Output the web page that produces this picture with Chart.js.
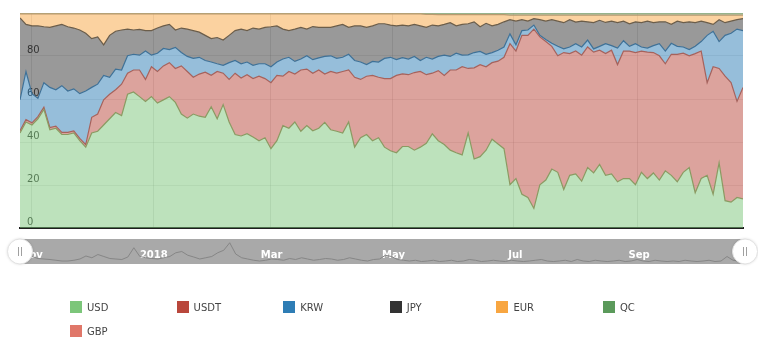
<!DOCTYPE html>
<html><head><meta charset="utf-8">
<script src="https://cdn.jsdelivr.net/npm/chart.js@4.4.1/dist/chart.umd.min.js"></script>
<style>
html,body{margin:0;padding:0;background:#fff;}
#wrap{position:relative;width:758px;height:353px;overflow:hidden;font-family:"DejaVu Sans",sans-serif;}
#main{position:absolute;left:0;top:0;}
#nav{position:absolute;left:0;top:236px;}
#legend{position:absolute;left:0;top:0;width:758px;height:353px;}
.li{position:absolute;display:flex;align-items:center;height:12px;font-size:10px;color:#444;white-space:nowrap;}
.sw{width:12px;height:12px;margin-right:5px;flex:none;}
</style></head><body><div id="wrap">
<canvas id="main" width="758" height="241" style="width:758px;height:241px"></canvas>
<canvas id="nav" width="758" height="32" style="width:758px;height:32px"></canvas>
<div id="legend"></div></div>
<script>
// sample every 3 days starting 2017-10-26
const startDate = '2017-10-26';
const stepDays = 3;
const tickDays = [6, 67, 126, 187, 248, 310];
const tickLabels = ['Nov', '2018', 'Mar', 'May', 'Jul', 'Sep'];
const seriesNames = ['USD', 'USDT', 'KRW', 'JPY', 'EUR', 'QC', 'GBP'];

const usd = [44.2,49.3,47.9,50.8,55.2,45.7,46.4,43.5,43.5,44.2,40.6,37.6,44.2,45.0,47.9,50.8,53.7,52.3,62.2,63.3,
61.1,58.9,61.1,58.1,59.6,61.1,58.4,53.0,51.1,53.0,52.0,51.5,56.4,50.8,57.4,49.3,43.5,42.8,43.9,42.3,
40.6,42.0,36.9,40.6,47.6,46.4,49.3,45.0,47.6,45.2,46.4,49.1,45.7,45.0,44.2,49.3,37.6,42.0,43.5,40.6,
42.0,37.6,35.9,35.0,37.9,37.9,36.2,37.6,39.4,43.8,40.6,38.8,36.2,35.0,34.0,44.2,32.1,33.2,36.2,41.3,
39.1,36.9,20.1,23.0,15.7,14.2,9.1,20.1,22.3,27.4,25.9,17.9,24.5,25.2,21.8,28.1,25.6,29.6,24.5,25.2,
21.5,23.0,23.0,20.1,25.9,23.0,25.6,22.3,26.6,24.5,21.5,25.9,28.1,16.4,23.0,24.5,15.7,30.3,12.7,12.0,
14.2,13.5];
const usdt = [1.0,1.1,1.0,1.0,1.0,1.0,1.0,1.0,1.0,1.0,1.1,1.2,7.3,8.0,11.7,11.4,10.6,14.6,9.8,10.2,
12.4,10.2,13.9,14.7,15.8,15.8,15.8,22.4,21.7,17.1,19.6,21.0,14.6,22.0,14.6,19.8,28.5,27.0,27.4,27.2,
30.0,27.5,30.7,30.4,23.0,26.4,22.3,28.5,26.3,26.8,27.1,22.5,27.1,27.0,28.6,24.2,32.5,27.1,27.1,30.4,
28.1,31.9,33.6,36.0,33.8,33.4,36.1,35.2,31.9,28.2,32.6,32.2,37.3,38.5,41.0,30.0,42.4,42.8,38.8,35.6,
38.5,42.5,65.6,59.3,73.9,75.4,83.4,68.8,64.4,57.1,54.2,63.7,56.6,57.1,58.6,56.1,56.2,53.1,56.6,57.5,
54.5,59.3,59.3,61.5,56.4,58.8,56.0,57.8,49.8,56.3,59.3,55.4,52.0,64.7,59.3,43.1,59.3,43.9,57.9,55.6,
44.7,51.9];
const krw = [14.4,22.4,13.6,8.5,11.4,18.7,16.9,21.7,19.2,19.5,20.8,24.9,13.9,13.9,11.4,7.9,9.6,6.6,8.1,7.3,
6.9,13.2,5.4,8.5,8.1,6.1,9.8,6.2,7.0,8.8,7.8,5.4,6.2,3.6,3.7,7.8,5.9,6.6,5.9,6.2,
5.8,6.9,7.4,6.2,8.0,6.6,5.9,5.1,6.2,6.3,5.6,8.2,7.3,6.9,6.6,7.3,7.8,8.1,5.4,6.5,
7.1,9.4,9.9,7.3,7.5,7.3,7.5,5.1,8.1,6.6,6.6,9.4,6.3,7.8,5.4,6.3,7.1,6.1,5.8,4.7,
5.1,4.8,4.6,2.9,2.2,2.5,1.9,0.7,1.0,1.4,4.4,1.7,3.1,3.4,3.8,3.2,1.5,1.8,4.6,2.1,
7.7,4.8,2.2,4.1,1.9,1.9,3.2,5.6,5.9,5.1,3.7,2.9,2.9,3.4,4.4,22.0,16.5,12.5,19.0,23.0,
33.6,26.4];
const jpy = [38.1,21.9,31.5,33.7,26.0,27.9,29.7,28.5,29.9,28.3,29.6,26.9,22.7,22.0,14.2,19.5,17.6,18.6,12.4,11.3,
12.0,9.5,11.4,11.7,10.5,11.7,8.1,11.4,12.7,12.9,11.7,11.7,10.9,12.2,11.7,12.7,13.9,16.1,14.6,17.3,
16.1,16.9,18.6,16.8,13.9,12.4,15.0,14.7,12.4,15.4,14.2,13.5,13.2,15.1,15.3,12.5,16.1,16.8,17.3,16.5,
17.8,16.1,15.0,15.7,15.2,15.4,14.9,16.1,13.9,15.8,14.2,14.3,15.7,12.7,14.3,14.5,14.3,11.5,14.4,12.4,
12.0,11.7,6.6,11.0,5.1,4.1,3.0,7.3,8.5,11.0,11.7,12.2,12.7,10.1,12.0,8.5,12.2,12.1,9.9,11.4,
11.8,9.1,10.5,10.2,11.3,12.5,10.7,10.2,13.6,8.8,11.7,11.3,12.9,11.0,9.5,5.9,3.2,10.2,5.9,5.6,
4.4,5.6];
const eur = [1.9,4.9,5.6,5.6,6.0,6.3,5.6,4.9,6.0,6.6,7.5,9.0,11.5,10.7,14.4,10.0,8.1,7.5,7.1,7.5,
7.2,7.8,7.8,6.6,5.6,4.9,7.5,6.6,7.1,7.8,8.5,10.0,11.5,11.0,12.2,10.0,7.8,7.1,7.8,6.6,
7.1,6.3,6.0,5.6,7.1,7.8,7.1,6.3,7.1,5.9,6.3,6.3,6.3,5.6,4.9,6.3,5.6,5.6,6.3,5.6,
4.6,4.6,5.2,5.6,5.2,5.6,4.9,5.6,6.1,5.0,5.2,4.5,3.7,5.2,4.5,4.2,3.3,5.6,4.0,5.2,
4.5,3.3,2.1,2.8,2.1,2.8,1.6,2.1,2.8,2.1,2.8,3.5,2.1,3.2,2.8,3.1,3.5,2.4,3.4,2.8,
3.5,2.8,4.0,3.1,3.5,2.8,3.5,3.1,3.1,4.3,2.8,3.5,3.1,3.5,2.8,3.5,4.3,2.1,3.5,2.8,
2.1,1.6];
const qc = [0.4,0.4,0.4,0.4,0.4,0.4,0.4,0.4,0.4,0.4,0.4,0.4,0.4,0.4,0.4,0.4,0.4,0.4,0.4,0.4,
0.4,0.4,0.4,0.4,0.4,0.4,0.4,0.4,0.4,0.4,0.4,0.4,0.4,0.4,0.4,0.4,0.4,0.4,0.4,0.4,
0.4,0.4,0.4,0.4,0.4,0.4,0.4,0.4,0.4,0.4,0.4,0.4,0.4,0.4,0.4,0.4,0.4,0.4,0.4,0.4,
0.4,0.4,0.4,0.4,0.4,0.4,0.4,0.4,0.6,0.6,0.8,0.8,0.8,0.8,0.8,0.8,0.8,0.8,0.8,0.8,
0.8,0.8,1.0,1.0,1.0,1.0,1.0,1.0,1.0,1.0,1.0,1.0,1.0,1.0,1.0,1.0,1.0,1.0,1.0,1.0,
1.0,1.0,1.0,1.0,1.0,1.0,1.0,1.0,1.0,1.0,1.0,1.0,1.0,1.0,1.0,1.0,1.0,1.0,1.0,1.0,
1.0,1.0];
const gbp = [];
// navigator sparkline (relative height in the navigator band)
const navigatorValues = [0.20,0.25,0.30,0.22,0.20,0.18,0.15,0.12,0.12,0.15,
0.20,0.32,0.25,0.38,0.30,0.22,0.20,0.18,0.28,0.65,
0.30,0.25,0.22,0.20,0.25,0.30,0.45,0.50,0.35,0.28,
0.20,0.25,0.30,0.45,0.55,0.85,0.40,0.25,0.20,0.15,
0.12,0.15,0.20,0.18,0.15,0.22,0.18,0.25,0.20,0.15,
0.18,0.22,0.20,0.15,0.18,0.25,0.20,0.15,0.12,0.18,
0.20,0.35,0.30,0.18,0.15,0.12,0.15,0.10,0.12,0.15,
0.10,0.12,0.15,0.10,0.12,0.18,0.15,0.10,0.12,0.15,
0.12,0.10,0.15,0.12,0.10,0.12,0.15,0.18,0.12,0.10,
0.12,0.15,0.10,0.18,0.12,0.10,0.15,0.12,0.10,0.12,
0.15,0.10,0.12,0.18,0.12,0.10,0.15,0.12,0.10,0.12,
0.10,0.15,0.12,0.10,0.12,0.15,0.10,0.12,0.30,0.15,
0.12,0.15];

const legendColors = ['#7cc67a', '#b9473c', '#2e7db5', '#333333', '#f8a641', '#5b9a5b', '#e07769'];
const fillColors = ['rgba(124,198,122,0.5)', 'rgba(185,71,60,0.5)', 'rgba(46,125,181,0.5)', 'rgba(51,51,51,0.5)', 'rgba(248,166,65,0.5)', 'rgba(91,154,91,0.5)', 'rgba(224,119,105,0.5)'];
const lineColors = ['#8b9a62', '#a6625c', '#3f7197', '#6b5d4a', '#b99a70', '#8aa577', '#c0665a'];

const raw = [usd, usdt, krw, jpy, eur, qc, gbp];
const days = usd.map((_, i) => i * stepDays);
// percent stacking
const totals = days.map((_, i) => raw.reduce((s, arr) => s + (arr[i] || 0), 0));
const datasets = raw.map((arr, si) => ({
  label: seriesNames[si],
  data: arr.map((v, i) => ({ x: days[i], y: v / totals[i] * 100 })),
  backgroundColor: fillColors[si],
  borderColor: lineColors[si],
  borderWidth: 1.2,
  pointRadius: 0,
  tension: 0,
  fill: si === 0 ? 'origin' : '-1'
}));

const tickSetter = s => { s.ticks = tickDays.map(v => ({ value: v })); };

new Chart(document.getElementById('main'), {
  type: 'line',
  data: { datasets },
  options: {
    responsive: false, animation: false, events: [],
    layout: { padding: { left: 20, right: 15, top: 10, bottom: 3 } },
    plugins: { legend: { display: false }, tooltip: { enabled: false } },
    scales: {
      x: {
        type: 'linear', min: 0, max: 363, z: 1,
        afterBuildTicks: tickSetter,
        afterFit: s => { s.height = 0; },
        grid: { color: 'rgba(0,0,0,0.10)', drawTicks: false },
        border: { display: true, color: '#1e1e1e', width: 2 },
        ticks: { display: false }
      },
      y: {
        stacked: true, min: 0, max: 100, z: 1,
        afterFit: s => { s.width = 0; },
        ticks: {
          stepSize: 20, mirror: true, padding: 7, labelOffset: -6, color: '#333',
          font: { family: 'DejaVu Sans', size: 10 },
          callback: v => (v === 100 ? '' : v)
        },
        grid: { color: 'rgba(0,0,0,0.08)', drawTicks: false },
        border: { display: false }
      }
    }
  }
});

const bandPlugin = {
  id: 'band',
  beforeDraw(c) {
    const a = c.chartArea, ctx = c.ctx;
    ctx.save();
    ctx.fillStyle = '#a9a9a9';
    ctx.fillRect(a.left, a.top, a.right - a.left, a.bottom - a.top);
    ctx.restore();
  }
};
const handlePlugin = {
  id: 'handles',
  afterDraw(c) {
    const a = c.chartArea, ctx = c.ctx;
    const cy = (a.top + a.bottom) / 2;
    [a.left, a.right].forEach(cx => {
      ctx.save();
      ctx.shadowColor = 'rgba(0,0,0,0.18)';
      ctx.shadowBlur = 3;
      ctx.beginPath();
      ctx.arc(cx, cy, 12.5, 0, Math.PI * 2);
      ctx.fillStyle = '#ffffff';
      ctx.fill();
      ctx.shadowColor = 'transparent';
      ctx.strokeStyle = '#e2e2e2';
      ctx.lineWidth = 1;
      ctx.stroke();
      ctx.strokeStyle = '#a0a0a0';
      ctx.beginPath();
      ctx.moveTo(cx - 1.5, cy - 4.5); ctx.lineTo(cx - 1.5, cy + 4.5);
      ctx.moveTo(cx + 1.5, cy - 4.5); ctx.lineTo(cx + 1.5, cy + 4.5);
      ctx.stroke();
      ctx.restore();
    });
  }
};

new Chart(document.getElementById('nav'), {
  type: 'line',
  data: { datasets: [{
    label: 'navigator',
    data: navigatorValues.map((v, i) => ({ x: days[i], y: v })),
    borderColor: '#868686', borderWidth: 1, pointRadius: 0, tension: 0, fill: false
  }] },
  options: {
    responsive: false, animation: false, events: [],
    layout: { padding: { left: 20, right: 13, top: 3, bottom: 4 } },
    plugins: { legend: { display: false }, tooltip: { enabled: false } },
    scales: {
      x: {
        type: 'linear', min: 0, max: 363,
        afterBuildTicks: tickSetter,
        afterFit: s => { s.height = 0; },
        grid: { display: false, drawTicks: false },
        border: { display: false },
        ticks: {
          autoSkip: false, maxRotation: 0, padding: 3, mirror: true, color: '#ffffff',
          font: { family: 'DejaVu Sans', size: 10, weight: 'bold' },
          callback: (v, i) => tickLabels[i]
        }
      },
      y: { display: false, min: 0, max: 1 }
    }
  },
  plugins: [bandPlugin, handlePlugin]
});

// legend
const legend = document.getElementById('legend');
seriesNames.forEach((name, i) => {
  const row = Math.floor(i / 6), col = i % 6;
  const el = document.createElement('div');
  el.className = 'li';
  el.style.left = (70 + col * 106.6) + 'px';
  el.style.top = (301 + row * 24) + 'px';
  el.innerHTML = '<span class="sw" style="background:' + legendColors[i] + '"></span><span>' + name + '</span>';
  legend.appendChild(el);
});
</script>
</body></html>
